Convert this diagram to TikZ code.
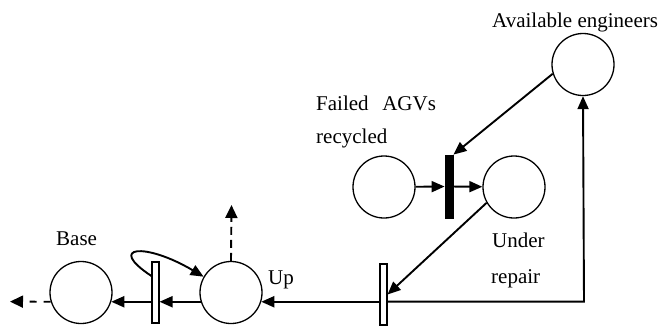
\documentclass[tikz,border=0pt]{standalone}
\usepackage{fontspec}
\setmainfont{Liberation Serif}
\usetikzlibrary{arrows.meta}
\begin{document}
\begin{tikzpicture}[x=1pt,y=-1pt,
  place/.style={draw,circle,line width=1.3pt,minimum size=62pt,inner sep=0pt},
  wbar/.style={draw,fill=white,line width=1.1pt,minimum width=7pt,minimum height=61pt,inner sep=0pt},
  bbar/.style={draw,fill=black,line width=0.8pt,minimum width=8pt,minimum height=63pt,inner sep=0pt},
  arc/.style={line width=1.9pt,-{Triangle[length=13pt,width=11pt]}},
  darc/.style={line width=1.9pt,dash pattern=on 7pt off 7pt,-{Triangle[length=13pt,width=12pt]}},
  lab/.style={anchor=base west,inner sep=0pt,font=\fontsize{21}{25}\selectfont}]
\useasboundingbox (0,0) rectangle (662,325);
% places
\node[place] (ae) at (583,64.5) {};
\node[place] (fr) at (384,187) {};
\node[place] (ur) at (514,187) {};
\node[place] (base) at (81,292.5) {};
\node[place] (up) at (231,292.5) {};
% transitions
\node[bbar] (t1) at (449,186.5) {};
\node[wbar] (t2) at (155.5,292.5) {};
\node[wbar] (t3) at (383.5,294.5) {};
% free ends
\coordinate (outL) at (10,301.6);
\coordinate (outU) at (231.5,205);
\coordinate (corner) at (584,301.6);
% labels
\node[lab] (lae) at (492,27) {Available engineers};
\node[lab] (lfa) at (316,110.7) {Failed\hspace{0.65em}AGVs};
\node[lab] (lrc) at (316,143) {recycled};
\node[lab] (lba) at (56,245) {Base};
\node[lab] (lun) at (492,247) {Under};
\node[lab] (lre) at (491,283) {repair};
\node[lab] (lup) at (268,284) {Up};
% arcs
\draw[arc] (fr) -- (t1);
\draw[arc] (t1) -- (ur);
\draw[arc] (ae.197) -- (t1.north east);
\draw[arc] (ur.210) -- (t3.east);
\draw[arc] (t3.east |- corner) -- (corner) -- (ae.south);
\draw[arc] (t3.west |- up.-17) -- (up.-17);
\draw[arc] (up.197) -- (t2.east |- up.197);
\draw[arc] (t2.west |- base.-17) -- (base.-17);
\draw[arc] (t2.west |- 0,276) .. controls (106,246) and (145,242) .. (up.150);
\draw[darc] (base.197) -- (outL);
\draw[darc,dash pattern=on 8pt off 5pt] (up.north) -- (outU);
\end{tikzpicture}
\end{document}
